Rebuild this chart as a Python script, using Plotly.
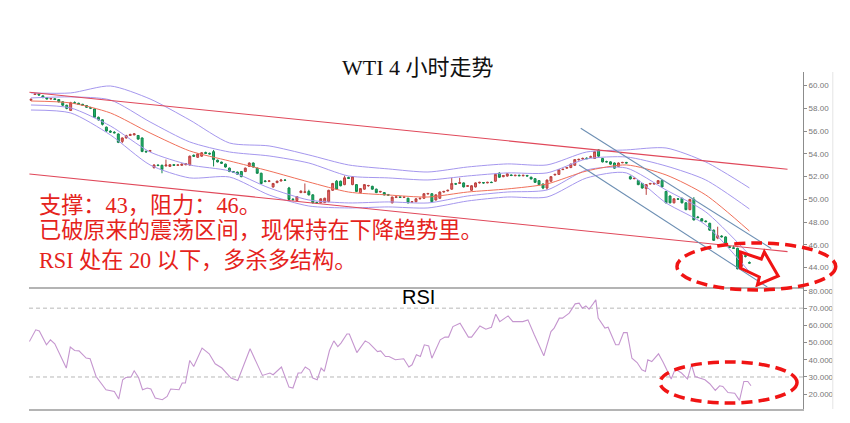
import plotly.graph_objects as go

# ---------------- data ----------------
opens = [58.72, 59.22, 59.25, 59.10, 58.95, 58.83, 58.85, 58.78, 58.58, 58.28,
         57.82, 58.50, 58.45, 58.36, 58.25, 58.08, 57.95, 57.22, 57.00, 56.35,
         56.00, 55.90, 55.75, 55.10, 55.40, 55.62, 55.68, 55.62, 55.40, 54.22,
         54.22, 52.80, 53.02, 53.00, 52.95, 52.90, 53.05, 53.00, 53.00, 53.05,
         53.02, 53.88, 53.70, 53.80, 54.12, 54.05, 54.20, 53.45, 53.28, 53.10,
         52.75, 52.45, 52.40, 52.45, 52.45, 52.90, 53.20, 52.75, 52.30, 51.62,
         51.60, 51.10, 51.48, 51.62, 51.70, 51.00, 50.02, 49.90, 50.60, 50.62,
         50.70, 50.40, 49.72, 49.70, 49.72, 49.80, 50.80, 51.60, 51.60, 51.30,
         51.92, 51.30, 51.30, 50.60, 50.90, 51.20, 51.15, 50.90, 50.65, 50.60,
         50.42, 49.70, 50.18, 50.22, 50.18, 50.10, 49.75, 49.80, 50.05, 50.10,
         50.48, 50.50, 49.95, 50.10, 50.65, 50.75, 50.90, 51.38, 51.40, 51.45,
         51.15, 50.80, 51.10, 51.45, 51.48, 51.45, 51.50, 51.60, 52.30, 52.00,
         52.05, 52.15, 52.08, 52.12, 52.08, 52.10, 51.95, 51.82, 51.65, 51.35,
         51.00, 51.60, 52.15, 52.20, 52.62, 52.75, 52.80, 53.00, 53.48, 53.55,
         53.62, 53.70, 53.60, 54.35, 53.60, 53.32, 53.30, 53.20, 52.90, 53.22,
         53.25, 52.00, 51.82, 51.65, 51.40, 50.95, 51.35, 51.35, 51.40, 51.65,
         50.70, 50.30, 49.70, 50.05, 50.10, 49.70, 49.10, 50.00, 48.45, 48.30,
         48.10, 47.90, 47.30, 46.60, 46.78, 46.70, 45.85, 45.75, 45.70, 44.10,
         45.05, 44.45]
highs = [58.85, 59.35, 59.30, 59.15, 59.00, 58.92, 58.90, 58.82, 58.62, 58.32,
         58.58, 58.62, 58.50, 58.40, 58.30, 58.14, 58.00, 57.28, 57.05, 56.40,
         56.08, 56.00, 55.80, 55.45, 55.68, 55.78, 55.82, 55.66, 55.45, 54.30,
         54.35, 53.10, 53.08, 53.05, 53.50, 53.10, 53.10, 53.08, 53.15, 53.20,
         53.85, 53.95, 54.05, 54.15, 54.20, 54.12, 54.35, 53.50, 53.32, 53.15,
         52.80, 52.50, 52.45, 52.50, 52.80, 53.25, 53.25, 52.80, 52.35, 51.70,
         51.68, 51.45, 51.65, 51.80, 51.78, 51.10, 50.10, 50.30, 50.80, 51.40,
         50.85, 50.45, 49.80, 50.10, 50.15, 50.85, 51.45, 51.70, 51.65, 52.10,
         52.00, 52.05, 51.35, 51.00, 51.35, 51.28, 51.20, 50.95, 50.75, 50.65,
         50.48, 50.25, 50.28, 50.28, 50.25, 50.15, 49.85, 50.10, 50.15, 50.55,
         50.58, 50.55, 50.45, 50.70, 50.75, 50.85, 51.90, 51.45, 51.90, 51.50,
         51.25, 51.25, 51.50, 51.55, 51.52, 51.55, 51.58, 52.25, 52.40, 52.15,
         52.30, 52.20, 52.16, 52.18, 52.15, 52.16, 52.00, 51.88, 51.70, 51.40,
         51.75, 52.05, 52.25, 52.65, 52.70, 52.85, 53.15, 53.55, 53.58, 53.68,
         53.70, 53.85, 54.25, 54.40, 53.65, 53.40, 53.35, 53.25, 53.25, 53.30,
         53.30, 52.10, 51.95, 51.70, 51.45, 51.35, 51.45, 51.45, 51.70, 51.70,
         50.75, 50.35, 50.10, 50.12, 50.15, 49.75, 50.05, 50.20, 48.55, 48.35,
         48.15, 47.95, 47.35, 47.60, 46.85, 46.75, 45.92, 45.95, 45.75, 45.20,
         45.15, 44.55]
lows = [58.65, 59.18, 59.12, 58.90, 58.78, 58.78, 58.74, 58.52, 58.20, 57.92,
        57.78, 58.42, 58.30, 58.22, 58.05, 57.94, 57.15, 56.92, 56.50, 55.95,
        55.85, 55.80, 54.95, 54.95, 55.35, 55.58, 55.62, 55.25, 54.15, 54.12,
        54.18, 52.70, 52.92, 52.30, 52.88, 52.85, 52.95, 52.95, 52.96, 53.00,
        52.98, 53.75, 53.65, 53.75, 54.00, 53.95, 52.90, 53.25, 53.12, 52.80,
        52.40, 52.32, 52.15, 51.95, 52.40, 52.85, 52.80, 52.25, 51.35, 51.50,
        51.52, 51.02, 51.42, 51.58, 51.62, 49.95, 49.88, 49.85, 50.55, 50.55,
        50.35, 49.65, 49.60, 49.65, 49.68, 49.75, 50.75, 50.85, 51.15, 51.25,
        51.80, 51.25, 50.65, 50.55, 50.85, 51.12, 50.85, 50.55, 50.60, 50.35,
        50.32, 49.65, 50.12, 50.14, 50.12, 49.65, 49.70, 49.75, 50.00, 50.05,
        50.42, 49.75, 49.90, 50.05, 50.60, 50.70, 50.85, 51.28, 51.38, 51.05,
        51.10, 50.75, 51.05, 51.40, 51.38, 51.42, 51.44, 51.55, 51.90, 51.95,
        52.00, 52.05, 52.04, 52.05, 52.02, 52.02, 51.75, 51.45, 51.25, 50.90,
        50.85, 51.55, 52.10, 52.15, 52.58, 52.70, 52.75, 52.95, 53.42, 53.50,
        53.55, 53.65, 53.55, 53.75, 53.25, 53.25, 53.05, 52.70, 52.85, 53.18,
        53.15, 51.75, 51.78, 51.25, 50.95, 50.40, 51.30, 51.30, 51.35, 51.05,
        49.65, 49.65, 49.65, 49.98, 49.65, 49.05, 49.05, 48.15, 48.35, 48.05,
        47.98, 47.25, 46.35, 46.50, 46.65, 45.95, 45.72, 45.65, 43.85, 44.00,
        44.90, 44.35]
closes = [58.80, 59.27, 59.18, 58.95, 58.83, 58.86, 58.78, 58.58, 58.28, 58.00,
          58.50, 58.48, 58.36, 58.28, 58.10, 58.02, 57.22, 57.00, 56.60, 56.02,
          55.92, 55.86, 55.02, 55.40, 55.60, 55.70, 55.76, 55.30, 54.22, 54.18,
          54.30, 53.02, 52.98, 52.62, 53.02, 53.05, 53.00, 53.03, 53.10, 53.14,
          53.80, 53.80, 54.00, 54.10, 54.05, 54.00, 53.50, 53.30, 53.18, 52.85,
          52.45, 52.38, 52.22, 52.00, 52.75, 53.20, 52.85, 52.30, 51.40, 51.58,
          51.62, 51.40, 51.60, 51.70, 51.68, 50.00, 49.98, 50.25, 50.72, 50.66,
          50.40, 49.70, 49.68, 50.05, 50.10, 50.80, 51.40, 50.90, 51.20, 51.90,
          51.85, 52.00, 50.70, 50.95, 51.30, 51.22, 50.90, 50.60, 50.70, 50.40,
          50.38, 50.20, 50.22, 50.18, 50.20, 49.70, 49.80, 50.05, 50.10, 50.50,
          50.52, 49.80, 50.40, 50.65, 50.70, 50.80, 51.40, 51.35, 51.48, 51.10,
          51.20, 51.20, 51.45, 51.50, 51.45, 51.50, 51.48, 52.20, 51.95, 52.10,
          52.25, 52.10, 52.12, 52.08, 52.12, 52.06, 51.80, 51.50, 51.30, 51.00,
          51.70, 52.00, 52.20, 52.60, 52.65, 52.80, 53.10, 53.50, 53.52, 53.60,
          53.58, 53.75, 54.20, 53.80, 53.30, 53.30, 53.10, 52.75, 53.20, 53.25,
          53.20, 51.80, 51.85, 51.30, 51.00, 51.30, 51.40, 51.40, 51.65, 51.10,
          49.70, 49.70, 50.05, 50.02, 49.70, 49.10, 50.00, 48.20, 48.40, 48.10,
          48.05, 47.30, 46.40, 46.80, 46.72, 46.00, 45.78, 45.70, 43.90, 45.10,
          45.00, 44.40]

# band / moving-average lines, read at every 10th candle
band_idx = [0, 10, 20, 30, 40, 50, 60, 70, 80, 90, 100, 110, 120, 130, 140, 150, 160, 170, 181]
band_up_outer = [59.36, 59.36, 59.97, 58.83, 56.98, 54.96, 54.70, 53.91, 53.03, 52.68,
                 52.41, 52.85, 53.12, 53.03, 54.17, 54.35, 54.52, 53.29, 51.01]
band_up_inner = [58.92, 59.01, 58.74, 56.81, 55.05, 54.17, 53.82, 53.20, 52.06, 51.89,
                 51.71, 52.06, 52.33, 52.33, 53.56, 53.73, 52.94, 51.71, 49.16]
ma_red = [58.65, 58.48, 57.60, 55.84, 54.26, 53.38, 52.50, 51.53, 50.65, 50.39,
          50.21, 50.65, 50.92, 51.36, 52.50, 53.03, 52.15, 50.39, 47.22]
band_lo_inner = [58.30, 58.04, 56.46, 54.17, 53.03, 52.50, 51.01, 49.95, 49.69, 49.78,
                 49.69, 50.30, 50.65, 50.83, 52.59, 52.76, 50.83, 48.90, 45.12]
band_lo_outer = [57.86, 57.60, 55.67, 53.03, 51.89, 51.97, 50.39, 49.42, 49.25, 49.34,
                 49.25, 49.86, 50.21, 50.21, 51.89, 52.33, 49.69, 47.75, 43.63]

# trend lines (candle index, price)
trend_upper_x = [-0.4, 190.6]
trend_upper_y = [59.42, 52.65]
trend_lower_x = [-0.4, 190.6]
trend_lower_y = [52.24, 45.41]
channel_upper_x = [138.5, 186.5]
channel_upper_y = [56.25, 45.69]
channel_lower_x = [138.1, 185.5]
channel_lower_y = [53.03, 42.30]

# RSI line
rsi_idx = [-0.4, 1.2, 2.1, 3.9, 4.9, 6.0, 8.9, 9.9, 11.0, 12.1, 13.9, 14.9, 16.4, 18.9, 21.0,
           22.1, 23.1, 23.9, 25.2, 26.0, 27.1, 28.1, 29.3, 30.2, 31.3, 33.1, 34.3, 35.2, 37.3,
           38.1, 38.9, 40.0, 41.0, 43.1, 44.9, 46.4, 48.1, 50.4, 52.1, 55.2, 58.3, 60.2, 61.0,
           63.1, 65.0, 66.0, 67.3, 68.1, 69.1, 70.2, 71.0, 72.1, 73.1, 73.9, 75.2, 76.3, 77.3,
           78.1, 79.6, 80.2, 82.1, 84.2, 85.2, 87.3, 88.1, 89.3, 90.2, 91.8, 93.9, 95.2, 96.0,
           97.1, 98.1, 99.1, 100.2, 101.0, 103.1, 104.3, 105.2, 106.3, 108.1, 110.2, 111.0,
           113.1, 114.6, 116.0, 117.1, 118.1, 120.2, 121.4, 123.9, 125.2, 126.8, 129.2, 131.0,
           131.8, 133.1, 133.9, 135.6, 137.1, 138.1, 138.9, 139.8, 140.6, 141.6, 142.3, 142.9,
           144.6, 145.4, 147.3, 148.1, 149.3, 150.2, 151.4, 152.7, 153.9, 154.8, 155.4, 156.4,
           158.1, 159.3, 161.3, 162.3, 163.9, 165.4, 166.4, 167.3, 169.8, 171.0, 172.4, 173.5,
           174.3, 175.6, 177.3, 178.5, 179.6, 180.6, 181.4]
rsi_val = [50.6, 57.4, 56.8, 48.7, 51.6, 49.3, 35.2, 47.4, 45.4, 45.2, 41.0, 40.6, 30.3, 22.6, 21.6,
           17.2, 28.4, 29.7, 30.0, 33.6, 29.7, 22.6, 23.6, 23.0, 17.8, 16.8, 18.7, 23.0, 22.6,
           26.5, 26.5, 39.6, 36.1, 46.8, 43.5, 37.7, 35.2, 29.4, 28.0, 46.4, 30.9, 32.3, 31.3,
           35.8, 24.1, 23.6, 32.3, 32.3, 35.8, 34.2, 29.4, 28.4, 35.2, 33.2, 45.4, 51.0, 47.7,
           49.7, 55.0, 55.0, 44.2, 51.0, 49.7, 44.8, 45.2, 41.9, 41.9, 40.0, 40.6, 35.8, 37.1,
           42.9, 41.9, 48.7, 48.1, 40.9, 51.6, 53.2, 53.2, 59.3, 61.2, 53.2, 53.2,
           59.7, 57.8, 58.9, 66.5, 62.2, 65.5, 62.2, 62.2, 63.2, 54.5, 42.3, 56.4,
           58.4, 64.2, 64.2, 67.1, 72.5, 72.9, 70.0, 71.3, 69.4, 72.5, 74.8, 64.2,
           58.4, 58.9, 48.7, 48.7, 55.8, 55.8, 40.9, 38.4, 34.2, 33.2, 40.0, 39.0,
           43.5, 38.4, 28.8, 34.6, 32.3, 28.8, 37.1, 30.3, 28.4, 26.1, 22.2, 24.9,
           24.5, 21.0, 20.6, 16.4, 27.4, 27.4, 24.9]

price_ticks = [44, 46, 48, 50, 52, 54, 56, 58, 60]
rsi_ticks = [20, 30, 40, 50, 60, 70, 80]
rsi_levels = [30, 70]

# ---------------- figure ----------------
candle_idx = list(range(len(closes)))
fig = go.Figure()

band_style = dict(width=1, shape='spline', smoothing=0.7)
for vals, col in [(band_up_outer, '#a597ee'), (band_up_inner, '#a597ee'),
                  (band_lo_inner, '#a597ee'), (band_lo_outer, '#a597ee'),
                  (ma_red, '#f0705a')]:
    fig.add_trace(go.Scatter(x=band_idx, y=vals, mode='lines',
                             line=dict(color=col, **band_style),
                             xaxis='x', yaxis='y', hoverinfo='skip'))

fig.add_trace(go.Candlestick(
    x=candle_idx, open=opens, high=highs, low=lows, close=closes,
    increasing=dict(line=dict(color='#b9423f', width=1), fillcolor='#e8666a'),
    decreasing=dict(line=dict(color='#12864c', width=1), fillcolor='#1fb46c'),
    whiskerwidth=0, xaxis='x', yaxis='y', hoverinfo='skip'))

for xs, ys, col in [(trend_upper_x, trend_upper_y, '#e0485a'),
                    (trend_lower_x, trend_lower_y, '#e0485a'),
                    (channel_upper_x, channel_upper_y, '#6d8fb3'),
                    (channel_lower_x, channel_lower_y, '#6d8fb3')]:
    fig.add_trace(go.Scatter(x=xs, y=ys, mode='lines', line=dict(color=col, width=1.1),
                             xaxis='x', yaxis='y', hoverinfo='skip'))

fig.add_trace(go.Scatter(x=rsi_idx, y=rsi_val, mode='lines',
                         line=dict(color='#c596cf', width=1.1),
                         xaxis='x2', yaxis='y2', hoverinfo='skip'))

# the page body has an 8px margin, so the figure is offset by (8, 8) in the window
tickfont = dict(family='Liberation Sans, Arial, sans-serif', size=8, color='#777777')
fig.update_layout(
    width=842, height=415,
    margin=dict(l=21, r=41, t=64, b=14),
    paper_bgcolor='white', plot_bgcolor='white',
    showlegend=False,
    xaxis=dict(domain=[0, 1], anchor='y', range=[-0.5, 194.5],
               showticklabels=False, ticks='', showgrid=False, zeroline=False,
               showline=True, linecolor='#b4b4b4', linewidth=2,
               rangeslider=dict(visible=False)),
    yaxis=dict(domain=[0.362, 1], anchor='x', side='right', range=[42.3, 61.2],
               tickvals=price_ticks, ticktext=[f'{v:.2f}' for v in price_ticks],
               showgrid=False, zeroline=False, showline=True, linecolor='#8c8c8c',
               linewidth=1, ticks='outside', ticklen=3, tickcolor='#8c8c8c',
               tickfont=tickfont),
    xaxis2=dict(domain=[0, 1], anchor='y2', range=[-0.5, 194.5],
                showticklabels=False, ticks='', showgrid=False, zeroline=False,
                showline=True, linecolor='#b4b4b4', linewidth=2),
    yaxis2=dict(domain=[0, 0.362], anchor='x2', side='right', range=[11.4, 82.3],
                tickvals=rsi_ticks, ticktext=[f'{v:.4f}' for v in rsi_ticks],
                showgrid=False, zeroline=False, showline=True, linecolor='#8c8c8c',
                linewidth=1, ticks='outside', ticklen=3, tickcolor='#8c8c8c',
                tickfont=tickfont),
)

shapes = []
for lvl in rsi_levels:
    shapes.append(dict(type='line', xref='paper', x0=0, x1=1, yref='y2', y0=lvl, y1=lvl,
                       line=dict(color='#b8b8b8', width=1, dash='4px,3px'), layer='below'))
# window edge: clip the tick labels and faint border
shapes.append(dict(type='rect', xref='paper', yref='paper', x0=1.0385, x1=1.07, y0=-0.05, y1=1.05,
                   fillcolor='white', line=dict(width=0), layer='above'))
shapes.append(dict(type='line', xref='paper', yref='paper', x0=1.0385, x1=1.0385, y0=0, y1=1,
                   line=dict(color='#e4e4e4', width=1), layer='above'))
# dashed red ellipses
shapes.append(dict(type='circle', xref='paper', yref='paper', x0=0.8372, x1=1.0423, y0=0.3531, y1=0.4926,
                   line=dict(color='#f01414', width=3.5, dash='11px,6px'), layer='above'))
shapes.append(dict(type='circle', xref='paper', yref='paper', x0=0.8154, x1=0.9923, y0=0.0178, y1=0.1395,
                   line=dict(color='#f01414', width=3.5, dash='11px,6px'), layer='above'))
# hollow red arrow
shapes.append(dict(type='path', xref='x', yref='y',
                   path='M 178.75,45.38 L 184,44.76 L 184.75,45.38 L 188.25,43.27 L 183,42.48 L 183.5,43.18 L 178.75,43.97 Z',
                   line=dict(color='#f01414', width=3), fillcolor='rgba(255,255,255,0)', layer='above'))
fig.update_layout(shapes=shapes)

red_font = dict(family='Liberation Serif, Noto Sans CJK SC, serif', size=22.2, color='#e5231c')
annotations = [
    dict(text='WTI 4 小时走势', xref='paper', yref='paper', x=0.5026, y=1.0119,
         xanchor='center', yanchor='middle', showarrow=False,
         font=dict(family='Liberation Serif, Noto Sans CJK SC, serif', size=22, color='#111111')),
    dict(text='支撑：43，阻力：46。', xref='paper', yref='paper', x=0.0103, y=0.6053,
         xanchor='left', yanchor='middle', showarrow=False, font=red_font),
    dict(text='已破原来的震荡区间，现保持在下降趋势里。', xref='paper', yref='paper', x=0.0103, y=0.5282,
         xanchor='left', yanchor='middle', showarrow=False, font=red_font),
    dict(text='RSI 处在 20 以下，多杀多结构。', xref='paper', yref='paper', x=0.0103, y=0.4421,
         xanchor='left', yanchor='middle', showarrow=False, font=red_font),
    dict(text='RSI', xref='paper', yref='paper', x=0.5026, y=0.3323,
         xanchor='center', yanchor='middle', showarrow=False,
         font=dict(family='Liberation Sans, Arial, sans-serif', size=20, color='#000000')),
]
fig.update_layout(annotations=annotations)

fig.write_html('out.html')
